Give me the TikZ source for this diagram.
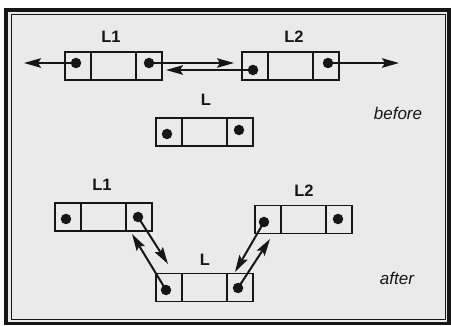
\documentclass[tikz,border=0pt]{standalone}
\usepackage{fontspec}
\setmainfont{Liberation Sans}
\usepackage{tikz}
\usetikzlibrary{arrows.meta,positioning,calc}
\definecolor{paper}{HTML}{EAEAEA}
\definecolor{ink}{HTML}{161616}

\begin{document}
\begin{tikzpicture}[x=1pt,y=-1pt,>=Stealth,node distance=0pt,
  ptrcell/.style={draw=ink,line width=1.6pt,minimum width=26pt,minimum height=28pt,inner sep=0pt,outer sep=0pt},
  datacell/.style={ptrcell,minimum width=45pt},
  ptrdot/.style={circle,fill=ink,inner sep=0pt,minimum size=10.5pt},
  listname/.style={text=ink,font=\fontsize{16.5}{18}\selectfont\bfseries},
  phase/.style={text=ink,font=\fontsize{17}{19}\selectfont\itshape},
  link/.style={-{Stealth[length=17pt,width=9.5pt,inset=3pt]},line width=2pt,draw=ink}]
  \useasboundingbox (0,0) rectangle (451,326);
  % frame
  \draw[ink,line width=3.5pt,fill=paper] (6,10) rectangle (449,323.5);
  \draw[ink,line width=0.9pt] (11,14) rectangle (445,319);

  % before: L1 and L2 linked, L alone
  \node[ptrcell] (b1l) at (78,66) {};
  \node[datacell,right=of b1l] (b1m) {};
  \node[ptrcell,right=of b1m] (b1r) {};
  \node[listname] (b1name) at (111,37) {L1};
  \node[ptrcell] (b2l) at (255,66) {};
  \node[datacell,right=of b2l] (b2m) {};
  \node[ptrcell,right=of b2m] (b2r) {};
  \node[listname] (b2name) at (294,37) {L2};
  \node[ptrcell] (b0l) at (169,132) {};
  \node[datacell,right=of b0l] (b0m) {};
  \node[ptrcell,right=of b0m] (b0r) {};
  \node[listname] (b0name) at (206,100) {L};
  \node[phase] (before) at (398,113) {before};

  \node[ptrdot] (b1ld) at ($(b1l)+(-2,-3)$) {};
  \node[ptrdot] (b1rd) at ($(b1r)+(0,-3)$) {};
  \node[ptrdot] (b2ld) at ($(b2l)+(-2,4)$) {};
  \node[ptrdot] (b2rd) at ($(b2r)+(2,-3)$) {};
  \node[ptrdot] (b0ld) at ($(b0l)+(-2,2)$) {};
  \node[ptrdot] (b0rd) at ($(b0r)+(-1,-2)$) {};

  \coordinate (bwest) at (24,63);
  \coordinate (bnext) at (234,63);
  \coordinate (bprev) at (166,70);
  \coordinate (beast) at (399,63);
  \draw[link] (b1ld.center) -- (bwest);
  \draw[link] (b1rd.center) -- (bnext);
  \draw[link] (b2ld.center) -- (bprev);
  \draw[link] (b2rd.center) -- (beast);

  % after: L spliced in between L1 and L2
  \node[ptrcell] (a1l) at (68,217) {};
  \node[datacell,right=of a1l] (a1m) {};
  \node[ptrcell,right=of a1m] (a1r) {};
  \node[listname] (a1name) at (102,185) {L1};
  \node[ptrcell] (a2l) at (268,219.5) {};
  \node[datacell,right=of a2l] (a2m) {};
  \node[ptrcell,right=of a2m] (a2r) {};
  \node[listname] (a2name) at (304,191) {L2};
  \node[ptrcell] (a0l) at (169,287.5) {};
  \node[datacell,right=of a0l] (a0m) {};
  \node[ptrcell,right=of a0m] (a0r) {};
  \node[listname] (a0name) at (205,260) {L};
  \node[phase] (after) at (397,278) {after};

  \node[ptrdot] (a1ld) at ($(a1l)+(-2,2)$) {};
  \node[ptrdot] (a1rd) at ($(a1r)+(-1,0)$) {};
  \node[ptrdot] (a2ld) at ($(a2l)+(-4,2.5)$) {};
  \node[ptrdot] (a2rd) at ($(a2r)+(-1,-0.5)$) {};
  \node[ptrdot] (a0ld) at ($(a0l)+(-3,2.5)$) {};
  \node[ptrdot] (a0rd) at ($(a0r)+(-2,0.5)$) {};

  \coordinate (a1to0) at (168,264);
  \coordinate (a0to1) at (132,234);
  \coordinate (a2to0) at (235,272);
  \coordinate (a0to2) at (270,239);
  \draw[link] (a1rd.center) -- (a1to0);
  \draw[link] (a0ld.center) -- (a0to1);
  \draw[link] (a2ld.center) -- (a2to0);
  \draw[link] (a0rd.center) -- (a0to2);
\end{tikzpicture}
\end{document}
